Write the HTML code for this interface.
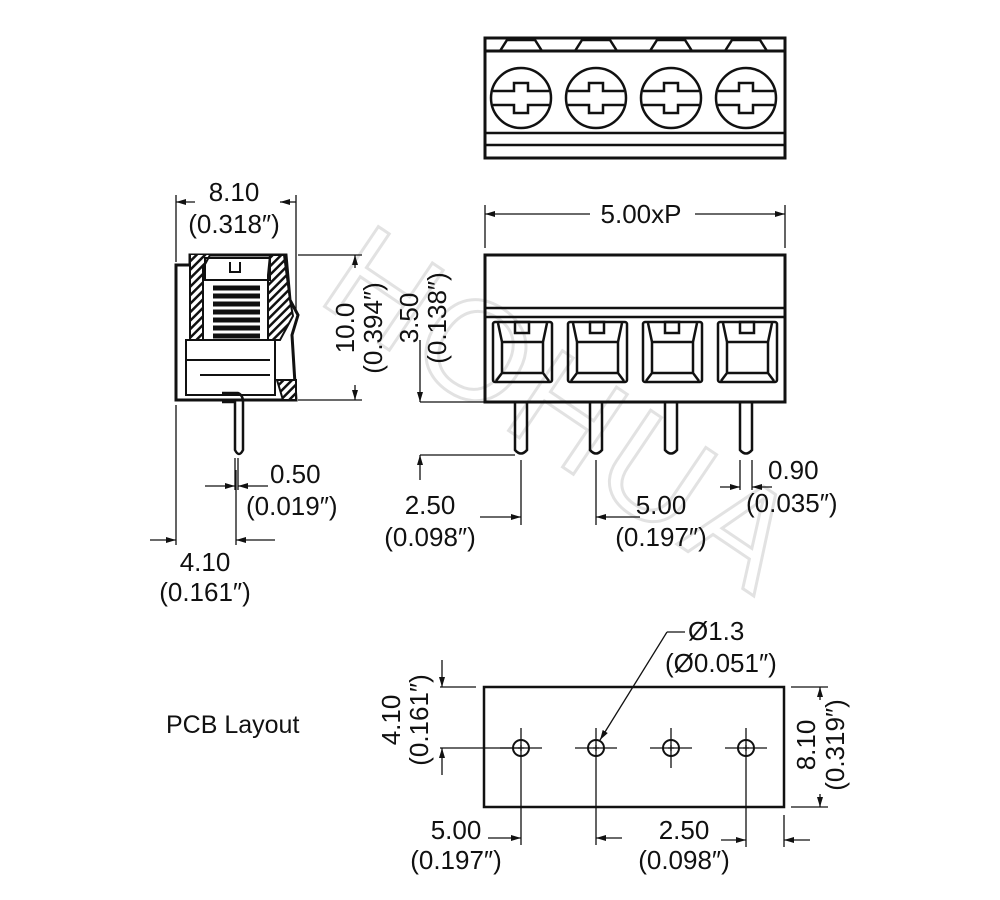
<!DOCTYPE html>
<html><head><meta charset="utf-8"><style>
body{margin:0;background:#fff}
svg{display:block}
text{font-family:"Liberation Sans",Arial,sans-serif;font-size:26px;fill:#111}
</style></head><body>
<svg width="1000" height="900" viewBox="0 0 1000 900" xmlns="http://www.w3.org/2000/svg">
<defs>
<marker id="a" viewBox="0 0 10 6" refX="10" refY="3" markerWidth="10" markerHeight="6" orient="auto-start-reverse" markerUnits="userSpaceOnUse"><path d="M0,0L10,3L0,6z" fill="#111"/></marker>
<pattern id="h" width="6" height="6" patternUnits="userSpaceOnUse" patternTransform="rotate(45)"><rect width="6" height="6" fill="#fff"/><rect width="2.5" height="6" fill="#111"/></pattern>
</defs>
<text x="0" y="0" transform="translate(315,300) rotate(34)" style="font-size:140px;fill:none;stroke:#e2e2e2;stroke-width:3;letter-spacing:6px">HOHUA</text>
<g stroke="#111" fill="none" stroke-width="3">
<rect x="485" y="38" width="300" height="120"/>
<line x1="485" y1="51" x2="785" y2="51"/>
<line x1="485" y1="133" x2="785" y2="133" stroke-width="2.5"/>
<line x1="485" y1="145" x2="785" y2="145" stroke-width="2.5"/>
<g stroke-width="2.5">
<path d="M500,51L507,40H535L542,51"/><path d="M575,51L582,40H610L617,51"/><path d="M650,51L657,40H685L692,51"/><path d="M725,51L732,40H760L767,51"/>
</g>
<g stroke-width="2.5">
<circle cx="521" cy="98" r="30"/><circle cx="596" cy="98" r="30"/><circle cx="671" cy="98" r="30"/><circle cx="746" cy="98" r="30"/>
<path d="M493,91H514V83H528V91H549M493,105H514V113H528V105H549"/>
<path d="M568,91H589V83H603V91H624M568,105H589V113H603V105H624"/>
<path d="M643,91H664V83H678V91H699M643,105H664V113H678V105H699"/>
<path d="M718,91H739V83H753V91H774M718,105H739V113H753V105H774"/>
</g>
<rect x="485" y="255" width="300" height="147"/>
<line x1="485" y1="308" x2="785" y2="308" stroke-width="2.5"/>
<line x1="485" y1="317" x2="785" y2="317" stroke-width="2.5"/>
<g stroke-width="2.5">
<g id="w"><rect x="493" y="322" width="59" height="60" rx="2"/><path d="M498,323L502,342V373L496,381M547,323L543,342V373L549,381M502,373H543M502,342H543"/><rect x="515" y="322" width="14" height="11"/></g>
<use href="#w" x="75"/><use href="#w" x="150"/><use href="#w" x="225"/>
<path d="M515,402V450Q521,457 527,450V402"/><path d="M590,402V450Q596,457 602,450V402"/><path d="M665,402V450Q671,457 677,450V402"/><path d="M740,402V450Q746,457 752,450V402"/>
</g>
<path d="M190,255H286L290,300L298,315L292,335L296,400H176V265H190Z" stroke-width="3"/>
<path d="M190,255V340H203V268L210,255" fill="url(#h)" stroke-width="2"/>
<path d="M270,255L284,255L290,300L293,316L280,340H268V275Z" fill="url(#h)" stroke-width="2"/>
<path d="M277,380L296,380V400H283Z" fill="url(#h)" stroke-width="2"/>
<path d="M205,258H270V280H205Z" stroke-width="2"/>
<path d="M230,262V272H240V262" stroke-width="2"/>
<g stroke-width="5"><path d="M213,288H260M213,296H260M213,304H260M213,312H260M213,320H260M213,328H260M213,336H260"/></g>
<path d="M186,340H275V395H186Z" stroke-width="2"/>
<path d="M186,360H270M200,375H270" stroke-width="2"/>
<path d="M222,393H238Q243,395 243,402V450Q239,458 235,450V402H222" stroke-width="2.5"/>
<rect x="484" y="687" width="300" height="120" stroke-width="2.5"/>
</g>
<g stroke="#111" fill="none" stroke-width="2">
<circle cx="521" cy="748" r="8"/><circle cx="596" cy="748" r="8"/><circle cx="671" cy="748" r="8"/><circle cx="746" cy="748" r="8"/>
</g>
<g stroke="#111" stroke-width="1.3" fill="none">
<path d="M500,748H542M521,728V768M575,748H617M596,728V768M650,748H692M671,728V768M725,748H767M746,728V768"/>
<path d="M518,748h6M521,745v6M593,748h6M596,745v6M668,748h6M671,745v6M743,748h6M746,745v6"/>
<path d="M485,205V248M785,205V248"/>
<line x1="590" y1="214" x2="485" y2="214" marker-end="url(#a)"/><line x1="695" y1="214" x2="785" y2="214" marker-end="url(#a)"/>
<path d="M176,195V262M296,195V312"/>
<line x1="176" y1="202" x2="195" y2="202" marker-start="url(#a)"/><line x1="280" y1="202" x2="296" y2="202" marker-start="url(#a)"/>
<path d="M298,255H362M298,400H362"/>
<line x1="355" y1="268" x2="355" y2="255" marker-end="url(#a)"/><line x1="355" y1="385" x2="355" y2="400" marker-end="url(#a)"/>
<path d="M420,402H515M420,455H515"/>
<line x1="420" y1="340" x2="420" y2="402" marker-end="url(#a)"/><line x1="420" y1="480" x2="420" y2="455" marker-end="url(#a)"/>
<path d="M235,458V490M238,458V490"/>
<line x1="205" y1="486" x2="235" y2="486" marker-end="url(#a)"/><line x1="268" y1="486" x2="238" y2="486" marker-end="url(#a)"/>
<path d="M176,405V545M236,470V545"/>
<line x1="150" y1="540" x2="176" y2="540" marker-end="url(#a)"/><line x1="275" y1="540" x2="236" y2="540" marker-end="url(#a)"/>
<path d="M521,460V525M596,460V525M740,460V490M752,460V490"/>
<line x1="480" y1="517" x2="521" y2="517" marker-end="url(#a)"/><line x1="640" y1="517" x2="596" y2="517" marker-end="url(#a)"/>
<line x1="720" y1="487" x2="740" y2="487" marker-end="url(#a)"/><line x1="772" y1="487" x2="752" y2="487" marker-end="url(#a)"/>
<path d="M440,687H476M440,748H520M791,687H828M791,807H828"/>
<line x1="442" y1="660" x2="442" y2="687" marker-end="url(#a)"/><line x1="442" y1="775" x2="442" y2="748" marker-end="url(#a)"/>
<line x1="820" y1="700" x2="820" y2="687" marker-end="url(#a)"/><line x1="820" y1="794" x2="820" y2="807" marker-end="url(#a)"/>
<path d="M521,768V845M596,768V845M746,768V847M784,815V847"/>
<line x1="488" y1="838" x2="521" y2="838" marker-end="url(#a)"/><line x1="622" y1="838" x2="596" y2="838" marker-end="url(#a)"/>
<line x1="721" y1="840" x2="746" y2="840" marker-end="url(#a)"/><line x1="810" y1="840" x2="784" y2="840" marker-end="url(#a)"/>
<path d="M685,632H667"/><line x1="667" y1="632" x2="600" y2="740" marker-end="url(#a)"/>
</g>
<text x="641" y="223" text-anchor="middle">5.00xP</text>
<text x="234" y="201" text-anchor="middle">8.10</text>
<text x="234" y="233" text-anchor="middle">(0.318″)</text>
<text transform="translate(354,328) rotate(-90)" text-anchor="middle">10.0</text>
<text transform="translate(382,328) rotate(-90)" text-anchor="middle">(0.394″)</text>
<text transform="translate(418,318) rotate(-90)" text-anchor="middle">3.50</text>
<text transform="translate(446,318) rotate(-90)" text-anchor="middle">(0.138″)</text>
<text x="270" y="483">0.50</text>
<text x="246" y="515">(0.019″)</text>
<text x="205" y="571" text-anchor="middle">4.10</text>
<text x="205" y="601" text-anchor="middle">(0.161″)</text>
<text x="430" y="514" text-anchor="middle">2.50</text>
<text x="430" y="546" text-anchor="middle">(0.098″)</text>
<text x="661" y="514" text-anchor="middle">5.00</text>
<text x="661" y="546" text-anchor="middle">(0.197″)</text>
<text x="768" y="479">0.90</text>
<text x="746" y="512">(0.035″)</text>
<text x="688" y="640">Ø1.3</text>
<text x="665" y="672">(Ø0.051″)</text>
<text x="166" y="733" style="font-size:25px">PCB Layout</text>
<text transform="translate(400,720) rotate(-90)" text-anchor="middle">4.10</text>
<text transform="translate(428,720) rotate(-90)" text-anchor="middle">(0.161″)</text>
<text transform="translate(815,745) rotate(-90)" text-anchor="middle">8.10</text>
<text transform="translate(844,745) rotate(-90)" text-anchor="middle">(0.319″)</text>
<text x="456" y="839" text-anchor="middle">5.00</text>
<text x="456" y="869" text-anchor="middle">(0.197″)</text>
<text x="684" y="839" text-anchor="middle">2.50</text>
<text x="684" y="869" text-anchor="middle">(0.098″)</text>
</svg>
</body></html>
